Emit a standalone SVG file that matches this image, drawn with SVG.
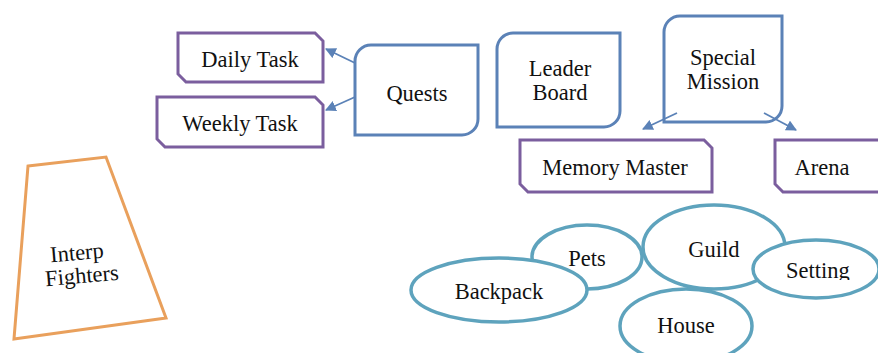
<svg xmlns="http://www.w3.org/2000/svg" width="878" height="353" viewBox="0 0 878 353">
<style>
text{font-family:"Liberation Serif","Times New Roman",serif;font-size:22.5px;fill:#111;text-anchor:middle}
.blue{fill:#fff;stroke:#5B82B7;stroke-width:3}
.purple{fill:#fff;stroke:#7B5E9E;stroke-width:3}
.teal{fill:#fff;stroke:#5EA3BD;stroke-width:3.5}
.orange{fill:#fff;stroke:#E9A05C;stroke-width:3}
.conn{stroke:#5B82B7;stroke-width:1.8;fill:none;marker-end:url(#ah)}
</style>
<defs>
<marker id="ah" viewBox="0 0 10 10" refX="9" refY="5" markerWidth="6" markerHeight="6" orient="auto" markerUnits="strokeWidth">
<path d="M0,0 L10,5 L0,10 Z" fill="#5B82B7"/>
</marker>
<clipPath id="clipSet"><rect x="740" y="200" width="140" height="80"/></clipPath>
</defs>
<rect width="878" height="353" fill="#fff"/>

<g id="daily-task">
<path class="purple" d="M178,33 H315 L323,41 V82 H186 L178,74 Z"/>
<text x="250" y="67">Daily Task</text>
</g>
<g id="weekly-task">
<path class="purple" d="M157,97 H315 L323,105 V147 H165 L157,139 Z"/>
<text x="240" y="131">Weekly Task</text>
</g>
<g id="quests">
<path class="blue" d="M355,61 A16,16 0 0 1 371,45 H478 V119 A16,16 0 0 1 462,135 H355 Z"/>
<text x="417" y="101">Quests</text>
</g>
<g id="leader-board">
<path class="blue" d="M497,49 A16,16 0 0 1 513,33 H620 V111 A16,16 0 0 1 604,127 H497 Z"/>
<text x="560" y="76">Leader</text>
<text x="560" y="100">Board</text>
</g>
<g id="special-mission">
<path class="blue" d="M664,32 A16,16 0 0 1 680,16 H782 V106 A16,16 0 0 1 766,122 H664 Z"/>
<text x="723" y="65">Special</text>
<text x="723" y="89">Mission</text>
</g>
<g id="memory-master">
<path class="purple" d="M520,140 H704 L712,148 V192 H528 L520,184 Z"/>
<text x="615" y="175">Memory Master</text>
</g>
<g id="arena">
<path class="purple" d="M775,140 H882 L890,148 V192 H783 L775,184 Z"/>
<text x="822" y="175">Arena</text>
</g>
<g id="interp-fighters">
<path class="orange" d="M28,166 L106,157 L166,318 L14,339 Z"/>
<text transform="rotate(-5 77 254)" x="77" y="260">Interp</text>
<text transform="rotate(-5 82 277)" x="82" y="283">Fighters</text>
</g>
<g id="pets">
<ellipse class="teal" cx="587" cy="257" rx="55" ry="32"/>
<text x="587" y="266">Pets</text>
</g>
<g id="backpack">
<ellipse class="teal" cx="499" cy="290" rx="88" ry="32"/>
<text x="499" y="299">Backpack</text>
</g>
<g id="guild">
<ellipse class="teal" cx="714" cy="247" rx="71" ry="42"/>
<text x="714" y="257">Guild</text>
</g>
<g id="setting">
<ellipse class="teal" cx="816" cy="269" rx="63" ry="29"/>
<text x="818" y="278" clip-path="url(#clipSet)">Setting</text>
</g>
<g id="house">
<ellipse class="teal" cx="686" cy="326" rx="66" ry="37"/>
<text x="686" y="333">House</text>
</g>

<g id="connectors">
<line class="conn" x1="355" y1="63" x2="326" y2="49"/>
<line class="conn" x1="355" y1="97" x2="326" y2="110"/>
<line class="conn" x1="677" y1="113" x2="643" y2="129"/>
<line class="conn" x1="764" y1="113" x2="796" y2="130"/>
</g>
</svg>
